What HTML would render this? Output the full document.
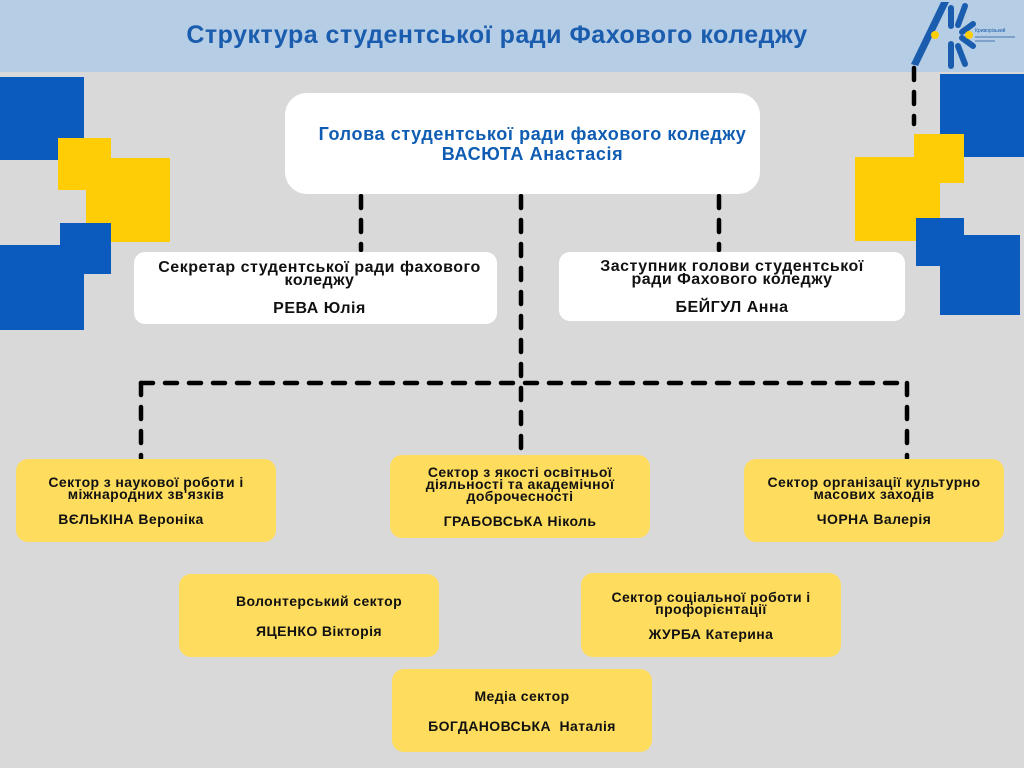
<!DOCTYPE html>
<html><head><meta charset="utf-8"><style>
body{margin:0;width:1024px;height:768px;background:#d9d9d9;position:relative;overflow:hidden;font-family:"Liberation Sans","DejaVu Sans",sans-serif;}
.r{position:absolute}
.hdr{left:0;top:0;width:1024px;height:72px;background:#b6cde6}
.title{position:absolute;left:0;width:994px;top:21px;text-align:center;font-weight:bold;font-size:25px;letter-spacing:0.5px;color:#1a5cad}
.box{position:absolute;display:flex;flex-direction:column;justify-content:center;align-items:center;text-align:center;font-weight:bold;color:#111;box-sizing:border-box}
.w{background:#fff}
.y{background:#fddc5e;border-radius:12px;font-size:14px;line-height:12px;letter-spacing:0.4px}
.y .n,.w .n{margin-top:13px}
.b{background:#0a5bbd}.g{background:#fecd05}
</style></head><body>
<div class="r hdr"></div>
<div class="title">Структура студентської ради Фахового коледжу</div>
<svg class="r" style="left:905px;top:0" width="119" height="72">
<path d="M6 64 L36 2 L44 2 L13 66Z" fill="#1a5cad"/>
<g stroke="#1a5cad" stroke-width="6" stroke-linecap="round">
<line x1="46" y1="8" x2="46" y2="26"/><line x1="46" y1="44" x2="46" y2="66"/>
<line x1="60" y1="6" x2="53" y2="25"/><line x1="68" y1="24" x2="57" y2="32"/><line x1="68" y1="46" x2="57" y2="38"/>
<line x1="60" y1="64" x2="53" y2="46"/>
</g>
<circle cx="30" cy="35" r="4" fill="#fecd05"/><circle cx="64" cy="35" r="4" fill="#fecd05"/>
<text x="70" y="32" font-size="5" fill="#1a5cad" font-family="Liberation Sans">Криворізький</text>
<rect x="70" y="36" width="40" height="2" fill="#7fa0c8"/><rect x="70" y="40" width="20" height="2" fill="#7fa0c8"/>
</svg>
<div class="r b" style="left:0;top:77px;width:84px;height:83px"></div>
<div class="r g" style="left:58px;top:138px;width:53px;height:52px"></div>
<div class="r g" style="left:86px;top:158px;width:84px;height:84px"></div>
<div class="r b" style="left:60px;top:223px;width:51px;height:51px"></div>
<div class="r b" style="left:0;top:245px;width:84px;height:85px"></div>
<div class="r b" style="left:940px;top:74px;width:84px;height:83px"></div>
<div class="r g" style="left:914px;top:134px;width:50px;height:49px"></div>
<div class="r g" style="left:855px;top:157px;width:85px;height:84px"></div>
<div class="r b" style="left:916px;top:218px;width:48px;height:48px"></div>
<div class="r b" style="left:940px;top:235px;width:80px;height:80px"></div>
<svg class="r" style="left:0;top:0" width="1024" height="768">
<g stroke="#000" stroke-width="4.5" stroke-linecap="round" stroke-dasharray="12 12" fill="none">
<line x1="914" y1="68" x2="914" y2="124"/>
<line x1="361" y1="196" x2="361" y2="250"/>
<line x1="719" y1="196" x2="719" y2="250"/>
<line x1="521" y1="196" x2="521" y2="456"/>
<line x1="141" y1="383" x2="908" y2="383"/>
<line x1="141" y1="383" x2="141" y2="458"/>
<line x1="907" y1="383" x2="907" y2="458"/>
</g>
</svg>
<div class="box w" style="left:285px;top:93px;width:475px;height:101px;border-radius:22px;color:#0f5cb3;font-size:18px;letter-spacing:0.6px;line-height:20px;padding-left:20px">
<div>Голова студентської ради фахового коледжу</div><div>ВАСЮТА Анастасія</div></div>
<div class="box w" style="left:134px;top:252px;width:363px;height:72px;border-radius:11px;font-size:16px;letter-spacing:0.5px;line-height:13px;padding-left:8px">
<div>Секретар студентської ради фахового<br>коледжу</div><div style="margin-top:15px">РЕВА Юлія</div></div>
<div class="box w" style="left:559px;top:252px;width:346px;height:69px;border-radius:11px;font-size:16px;letter-spacing:0.5px;line-height:13px">
<div>Заступник голови студентської<br>ради Фахового коледжу</div><div style="margin-top:15px">БЕЙГУЛ Анна</div></div>
<div class="box y" style="left:16px;top:459px;width:260px;height:83px"><div>Сектор з наукової роботи і<br>міжнародних зв'язків</div><div class="n" style="margin-left:-30px">ВЄЛЬКІНА Вероніка</div></div>
<div class="box y" style="left:390px;top:455px;width:260px;height:83px"><div>Сектор з якості освітньої<br>діяльності та академічної<br>доброчесності</div><div class="n">ГРАБОВСЬКА Ніколь</div></div>
<div class="box y" style="left:744px;top:459px;width:260px;height:83px"><div>Сектор організації культурно<br>масових заходів</div><div class="n">ЧОРНА Валерія</div></div>
<div class="box y" style="left:179px;top:574px;width:260px;height:83px;padding-left:20px"><div>Волонтерський сектор</div><div class="n" style="margin-top:18px">ЯЦЕНКО Вікторія</div></div>
<div class="box y" style="left:581px;top:573px;width:260px;height:84px"><div>Сектор соціальної роботи і<br>профорієнтації</div><div class="n">ЖУРБА Катерина</div></div>
<div class="box y" style="left:392px;top:669px;width:260px;height:83px"><div>Медіа сектор</div><div class="n" style="margin-top:18px">БОГДАНОВСЬКА&nbsp; Наталія</div></div>
</body></html>
